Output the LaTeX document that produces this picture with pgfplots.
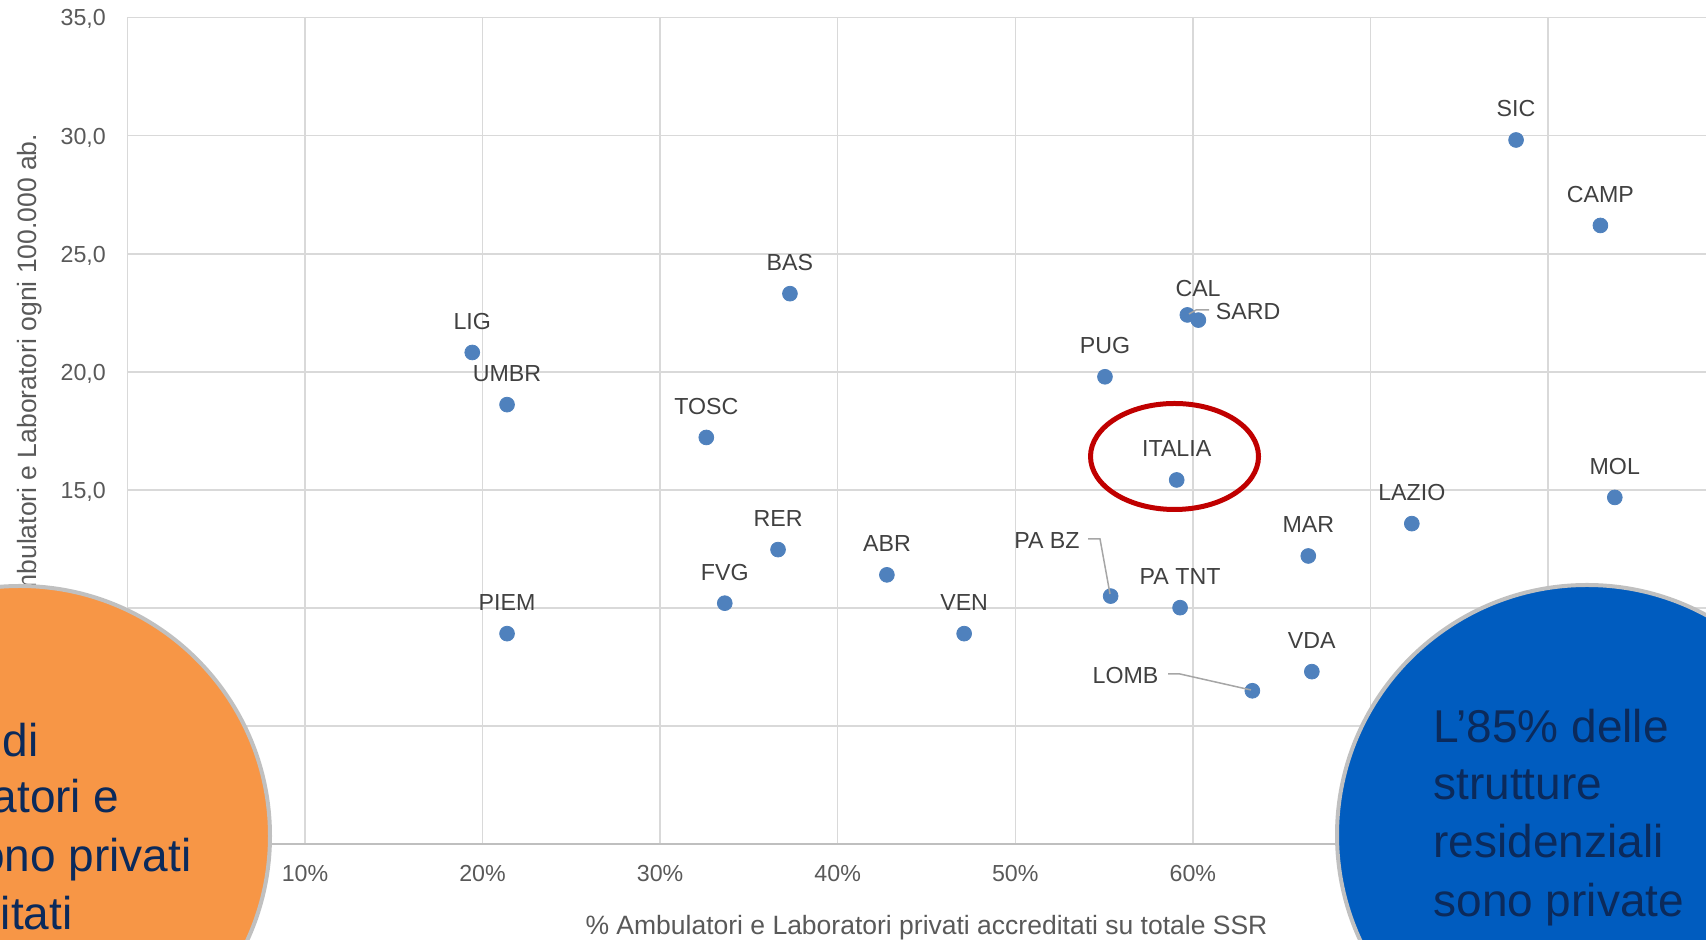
\documentclass[border=0pt]{standalone}
\usepackage{pgfplots}
\pgfplotsset{compat=1.18}
\usepackage{pgfplotstable}
\usepackage{fontspec}
\setmainfont{Liberation Sans}

\definecolor{dotblue}{HTML}{4F81BD}
\definecolor{gridgray}{HTML}{D9D9D9}
\definecolor{axisgray}{HTML}{BFBFBF}
\definecolor{ticktext}{HTML}{595959}
\definecolor{labeltext}{HTML}{404040}
\definecolor{leader}{HTML}{A6A6A6}
\definecolor{ringred}{HTML}{C00000}
\definecolor{bubbleorange}{HTML}{F79646}
\definecolor{bubbleblue}{HTML}{005CBF}
\definecolor{bubbletext}{HTML}{0B2A5B}
\definecolor{bubbleedge}{HTML}{C0C0C0}

% x = % privati accreditati, y = strutture ogni 100.000 ab.; dx,dy = label offset (pt)
\pgfplotstableread[col sep=comma]{
x,y,lab,dx,dy
19.42,20.82,LIG,0,15.5
21.38,18.61,UMBR,0,15.5
21.38,8.91,PIEM,0,15.5
37.31,23.31,BAS,0,15.5
32.60,17.22,TOSC,0,15.5
36.64,12.47,RER,0,15.5
33.64,10.20,FVG,0,15.5
42.77,11.40,ABR,0,15.5
47.12,8.91,VEN,0,15.5
55.37,10.50,PA BZ,-31.85,28
59.28,10.01,PA TNT,0,15.5
55.05,19.79,PUG,0,15.5
59.69,22.41,CAL,5.35,13
60.31,22.19,SARD,24.85,4.5
59.09,15.42,ITALIA,0,15.5
63.35,6.49,LOMB,-63.4,7.7
66.50,12.20,MAR,0,15.5
66.70,7.30,VDA,0,15.5
72.33,13.57,LAZIO,0,15.5
78.20,29.82,SIC,0,15.5
82.95,26.20,CAMP,0,15.5
83.76,14.68,MOL,0,15.5
}\regioni

\begin{document}
\begin{tikzpicture}
\useasboundingbox (0,0) rectangle (853pt,470pt);
\clip (0,0) rectangle (853pt,470pt);
\begin{axis}[
  at={(63.7pt,48pt)}, anchor=south west,
  scale only axis,
  width=799.1pt, height=413.15pt,
  xmin=0, xmax=90, ymin=0, ymax=35,
  axis x line*=bottom, axis y line*=left,
  x axis line style={draw=axisgray, line width=1pt},
  y axis line style={draw=gridgray, line width=0.75pt},
  xtick={0,10,...,80},
  xticklabels={0\%,10\%,20\%,30\%,40\%,50\%,60\%,70\%,80\%},
  ytick={0,5,...,35},
  major tick length=0pt,
  grid=major,
  grid style={draw=gridgray, line width=0.75pt},
  xticklabel style={font=\fontsize{11.6}{13}\selectfont, text=ticktext,
    anchor=north, inner sep=0pt, yshift=-10.5pt},
  yticklabel style={font=\fontsize{11.6}{13}\selectfont, text=ticktext,
    anchor=base east, inner sep=0pt, xshift=-10.6pt, yshift=-4.15pt,
    /pgf/number format/.cd, fixed, fixed zerofill, precision=1, use comma,
    assume math mode=true},
  every axis x label/.style={at={(axis description cs:0.5,-0.1101)}, anchor=base,
    font=\fontsize{13.25}{15}\selectfont, text=ticktext},
  every axis y label/.style={at={(axis description cs:-0.0569,0.868)}, rotate=90,
    anchor=base east, font=\fontsize{13.25}{15}\selectfont, text=ticktext},
  xlabel={\% Ambulatori e Laboratori privati accreditati su totale SSR},
  ylabel={Ambulatori e Laboratori ogni 100.000 ab.},
]
\addplot[only marks, mark=*, mark size=3.7pt,
  mark options={draw=dotblue, fill=dotblue},
  point meta=explicit symbolic,
  visualization depends on={\thisrow{dx}\as\dx},
  visualization depends on={\thisrow{dy}\as\dy},
  nodes near coords,
  every node near coord/.append style={anchor=center, inner sep=0pt,
    xshift=\dx, yshift=\dy,
    font=\fontsize{11.6}{13}\selectfont, text=labeltext},
] table[x=x, y=y, meta=lab] {\regioni};
\end{axis}

\begin{scope}[x=0.5pt, y=-0.5pt, shift={(0pt,470pt)}]
  % leader lines
  \draw[leader, line width=0.75pt] (1189,314) -- (1196,310) -- (1209,310);
  \draw[leader, line width=0.75pt] (1088,539) -- (1100,539) -- (1110,594);
  \draw[leader, line width=0.75pt] (1168,674) -- (1180,674) -- (1251,690);
  % ring around ITALIA
  \draw[ringred, line width=2.5pt] (1174.5,456.5) ellipse [x radius=84, y radius=53];
  % bubbles
  \draw[bubbleedge, line width=2pt, fill=bubbleorange] (20,836) circle [radius=250];
  \draw[bubbleedge, line width=2pt, fill=bubbleblue] (1587,835) circle [radius=250];
  \begin{scope}[every node/.style={font=\fontsize{23}{27}\selectfont, text=bubbletext, inner sep=0pt}]
    \node[anchor=base east] at (39,757) {Il 59\% di};
    \node[anchor=base east] at (120,813) {Ambulatori e};
    \node[anchor=base east] at (192,872) {Lab. sono privati};
    \node[anchor=base east] at (73,930) {accreditati};
    \node[anchor=base west] at (1433,743) {L’85\% delle};
    \node[anchor=base west] at (1433,800) {strutture};
    \node[anchor=base west] at (1433,858) {residenziali};
    \node[anchor=base west] at (1433,917) {sono private};
  \end{scope}
\end{scope}
\end{tikzpicture}
\end{document}
